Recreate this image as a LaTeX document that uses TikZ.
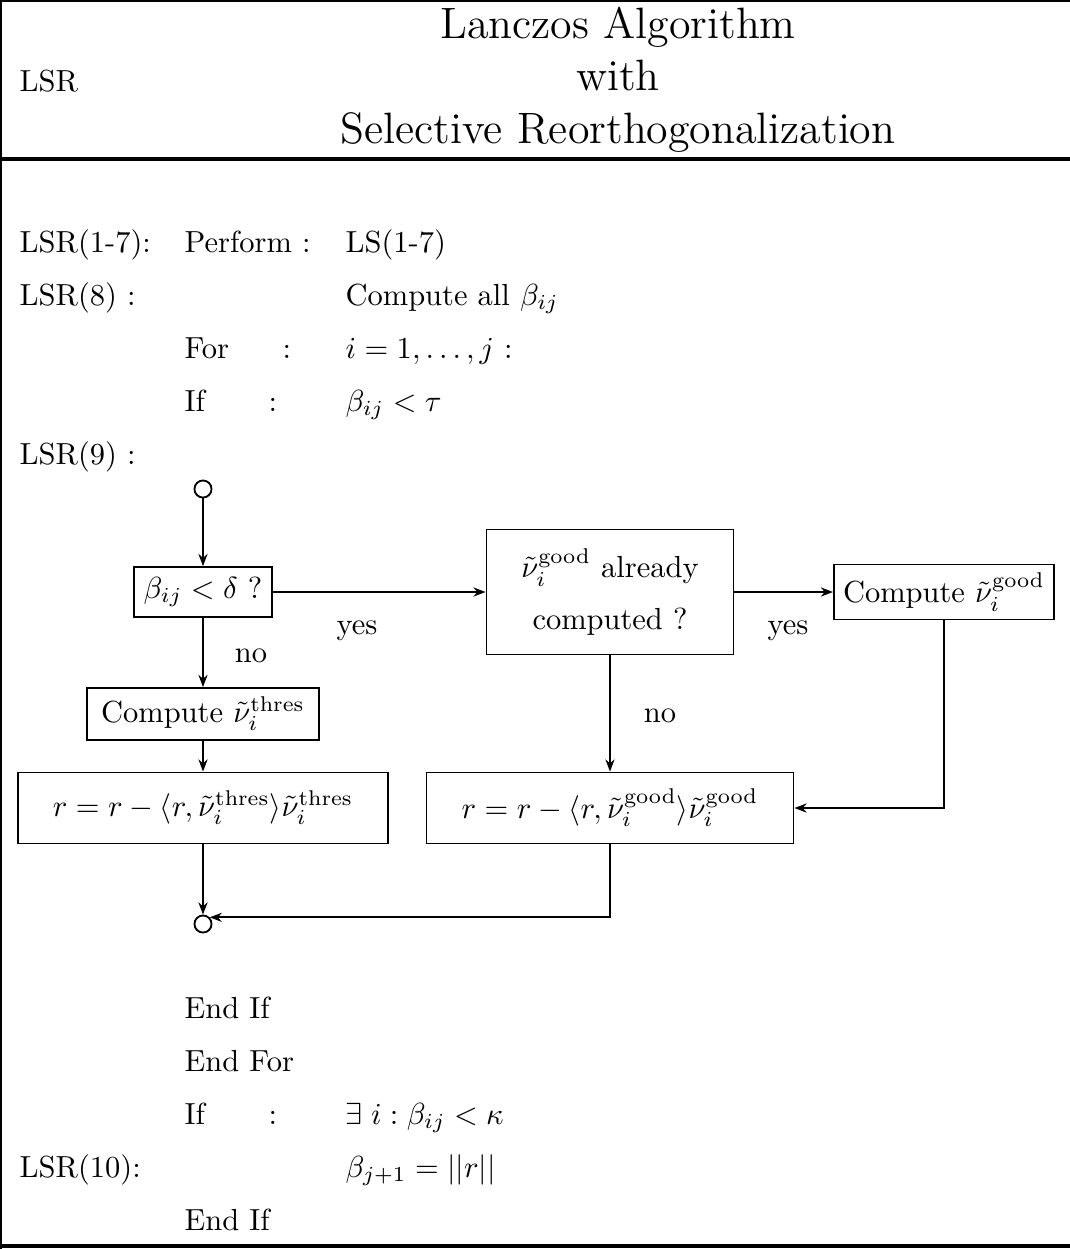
\documentclass[tikz,border=0pt]{standalone}
\usepackage{amsmath,amssymb}
\usetikzlibrary{arrows.meta,positioning}
\tikzset{
  box/.style={draw, line width=0.6pt, align=center, inner sep=0pt},
  dot/.style={draw, circle, line width=0.6pt, minimum size=5.6pt, inner sep=0pt},
  txt/.style={anchor=base west, inner sep=0pt},
  ttl/.style={anchor=base, inner sep=0pt, font=\Large},
  lbl/.style={inner sep=0pt},
  link/.style={-{Stealth[length=4pt,width=3pt]}, line width=0.6pt},
  frame/.style={line width=0.6pt},
  rule/.style={line width=1.1pt}
}

\begin{document}
\begin{tikzpicture}[x=0.328pt,y=-0.328pt]
  \useasboundingbox (0,0) rectangle (1070,1249);
  % frame
  \draw[frame] (1,1249) -- (1,1) -- (1070,1);
  \draw[rule] (0,159) -- (1070,159);
  \draw[rule] (0,1246) -- (1070,1246);

  % header
  \node[txt] (hdr) at (19,91) {LSR};
  \node[ttl] (ttl1) at (618,38) {Lanczos Algorithm};
  \node[ttl] (ttl2) at (618,90) {with};
  \node[ttl] (ttl3) at (618,143) {Selective Reorthogonalization};

  % steps 1-8
  \node[txt] (s17) at (19,252) {LSR(1-7):};
  \node[txt] (perf) at (184,252) {Perform :};
  \node[txt] (ls17) at (345,252) {LS(1-7)};
  \node[txt] (s8) at (19,305) {LSR(8) :};
  \node[txt] (allb) at (345,305) {Compute all $\beta_{ij}$};
  \node[txt] (for) at (184,358) {For};
  \node[txt] (forc) at (282,358) {:};
  \node[txt] (fori) at (345,358) {$i=1,\ldots,j$ :};
  \node[txt] (if1) at (184,411) {If};
  \node[txt] (if1c) at (268,411) {:};
  \node[txt] (tau) at (345,411) {$\beta_{ij} < \tau$};
  \node[txt] (s9) at (19,464) {LSR(9) :};

  % step 9 chart
  \node[dot] (start) at (203,489) {};
  \node[box, minimum width=45.3pt, minimum height=16.4pt] (delta) at (203,592) {$\beta_{ij} < \delta$ ?};
  \node[box, minimum width=81pt, minimum height=41pt] (known) at (610,592)
    {$\tilde{\nu}_i^{\mathrm{good}}$ already\\[5pt] computed ?};
  \node[box, minimum width=72.2pt, minimum height=18pt] (cgood) at (944,592) {Compute $\tilde{\nu}_i^{\mathrm{good}}$};
  \node[box, minimum width=76.1pt, minimum height=17.1pt] (thres) at (203,714) {Compute $\tilde{\nu}_i^{\mathrm{thres}}$};
  \node[box, minimum width=121.4pt, minimum height=23.3pt] (rthres) at (203,808)
    {$r = r - \langle r, \tilde{\nu}_i^{\mathrm{thres}}\rangle \tilde{\nu}_i^{\mathrm{thres}}$};
  \node[box, minimum width=120.4pt, minimum height=23.3pt] (rgood) at (610,808)
    {$r = r - \langle r, \tilde{\nu}_i^{\mathrm{good}}\rangle \tilde{\nu}_i^{\mathrm{good}}$};
  \node[dot] (stop) at (203,924) {};

  \node[lbl] (yes1) at (357,631) {yes};
  \node[lbl] (no1) at (251,656) {no};
  \node[lbl] (no2) at (660,716) {no};
  \node[lbl] (yes2) at (788,631) {yes};

  \draw[link] (start) -- (delta);
  \draw[link] (delta) -- (known);
  \draw[link] (delta) -- (thres);
  \draw[link] (thres) -- (rthres);
  \draw[link] (known) -- (cgood);
  \draw[link] (known) -- (rgood);
  \draw[link] (cgood) |- (rgood);
  \draw[link] (rthres) -- (stop);
  \draw[link] (rgood.south) |- (stop.north east);

  % steps after the chart
  \node[txt] (endif1) at (184,1018) {End If};
  \node[txt] (endfor) at (184,1071) {End For};
  \node[txt] (if2) at (184,1124) {If};
  \node[txt] (if2c) at (268,1124) {:};
  \node[txt] (kappa) at (345,1124) {$\exists\; i : \beta_{ij} < \kappa$};
  \node[txt] (s10) at (19,1177) {LSR(10):};
  \node[txt] (norm) at (345,1177) {$\beta_{j+1} = ||r||$};
  \node[txt] (endif2) at (184,1230) {End If};
\end{tikzpicture}
\end{document}
